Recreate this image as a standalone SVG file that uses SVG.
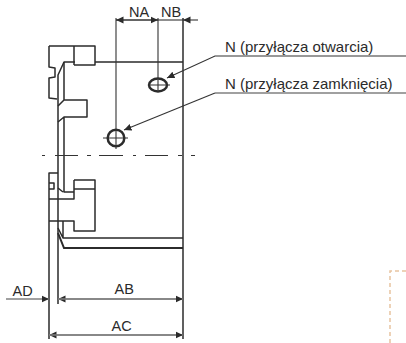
<svg xmlns="http://www.w3.org/2000/svg" width="406" height="343" viewBox="0 0 406 343">
<style>
.o{fill:none;stroke:#2b2b2b;stroke-width:1.5;stroke-linejoin:round}
.b{fill:none;stroke:#2b2b2b;stroke-width:2}
.h{fill:none;stroke:#2b2b2b;stroke-width:2.5}
.t{fill:none;stroke:#333;stroke-width:1.1}
.g{fill:none;stroke:#808080;stroke-width:1.4}
.a{fill:#2b2b2b}
text{font-family:"Liberation Sans",Arial,sans-serif;fill:#2b2b2b}
.d{font-size:14.500px}
.l{font-size:15px}
</style>
<defs>
<marker id="ah" markerUnits="userSpaceOnUse" markerWidth="9" markerHeight="9" refX="7.500" refY="4" orient="auto"><path d="M0 .5L7.500 4L0 7.500Z" class="a"/></marker>
</defs>
<rect width="406" height="343" fill="#fff"/>
<g id="body">
<path class="o" d="M74 46V65M49 46H95V65H74M95 62H183M75 62H64L58 75V304M49 46V67L55 68V77L49 78V98L57 99"/>
<path class="o" d="M64 62V100M64 117V192H74M58 106L64 100H87V117H64L58 122M58 173H49V339M49 183H54V189H49M58 188L63 192"/>
<path class="o" d="M74 180H95V231H74V221H49M74 180V199H49M74 189H95M63 221V238H183M58 228L63 238"/>
<path class="b" d="M58 233L64 248H183"/>
<path class="o" d="M183 18V339"/>
</g>
<g id="centerline">
<path class="t" d="M42 155.500H45M55 155.500H78M87 155.500H91M99 155.500H123M133 155.500H136M145 155.500H168M178 155.500H182M191 155.500H195"/>
</g>
<g id="hole-open">
<ellipse class="h" cx="158" cy="85" rx="9" ry="6.500"/>
<path class="t" d="M148 85H170M158 18V92"/>
</g>
<g id="hole-close">
<circle class="h" cx="116" cy="138" r="8.300"/>
<path class="t" d="M103 138H128M116 18V149"/>
</g>
<g id="connectors">
<path class="t" d="M406 56H215L167 78" marker-end="url(#ah)"/>
<path class="g" d="M406 93H215"/>
<path class="t" d="M215 93L124 130" marker-end="url(#ah)"/>
<path class="t" d="M158 20H116" marker-end="url(#ah)"/>
<path class="t" d="M116 20H158" marker-end="url(#ah)"/>
<path class="t" d="M198 20H183" marker-end="url(#ah)"/>
<path class="t" d="M158 20H183"/>
<path class="g" d="M6 299H49" marker-end="url(#ah)"/>
<path class="g" d="M183 299H58" marker-end="url(#ah)"/>
<path class="g" d="M58 299H183" marker-end="url(#ah)"/>
<path class="g" d="M183 335H49" marker-end="url(#ah)"/>
<path class="g" d="M49 335H183" marker-end="url(#ah)"/>
</g>
<g id="labels">
<text class="d" x="129" y="17">NA</text>
<text class="d" x="161" y="17">NB</text>
<text class="d" x="12.500" y="296">AD</text>
<text class="d" x="114.500" y="294">AB</text>
<text class="d" x="111.500" y="331">AC</text>
<text class="l" x="225" y="51.500">N (przyłącza otwarcia)</text>
<text class="l" x="225" y="88.500">N (przyłącza zamknięcia)</text>
</g>
<g id="frame">
<path d="M406 271H390V343" fill="none" stroke="#e8c4a0" stroke-width="1.5" stroke-dasharray="4 3"/>
</g>
</svg>
